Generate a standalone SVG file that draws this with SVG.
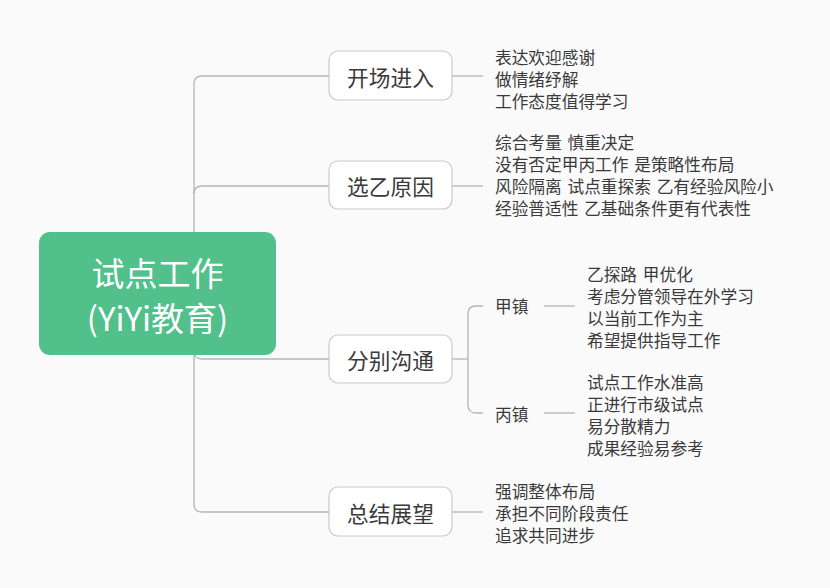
<svg xmlns="http://www.w3.org/2000/svg" width="830" height="588" viewBox="0 0 830 588">
<style>
text{font-family:"Noto Sans CJK SC","Noto Sans",sans-serif;dominant-baseline:central;fill:#3a3a3a}
.root{font-size:33px;fill:#ffffff;text-anchor:middle}
.l1{font-size:21.7px;text-anchor:middle}
.l2{font-size:16.7px}
.lf{font-size:16.7px;word-spacing:2px}
.box{fill:#ffffff;stroke:#c9c9c9;stroke-width:1.2}
.conn path{fill:none;stroke:#b5b5b5;stroke-width:1.3}
</style>
<rect width="830" height="588" fill="#fafafa"/>
<g class="conn">
<path d="M194,84 Q194,76 202,76 H330"/>
<path d="M194,84 V504"/>
<path d="M194,194 Q194,186 202,186 H330"/>
<path d="M194,351 Q194,359 202,359 H330"/>
<path d="M194,504 Q194,512 202,512 H330"/>
<path d="M452,76 H483"/>
<path d="M452,186 H483"/>
<path d="M452,359 H468"/>
<path d="M483,306 H476 Q468,306 468,314 V405 Q468,413 476,413 H483"/>
<path d="M544,306 H575"/>
<path d="M544,413 H575"/>
<path d="M452,512 H483"/>
</g>
<g id="root">
<rect x="39" y="232" width="237" height="123" rx="11" fill="#52c08b"/>
<text class="root" x="157.5" y="272">试点工作</text>
<text class="root" x="157.5" y="317">(YiYi教育)</text>
</g>
<g id="n1">
<rect class="box" x="329" y="51" width="123" height="49" rx="9"/>
<text class="l1" x="390.5" y="76">开场进入</text>
</g>
<g id="n1t">
<text class="lf" x="495" y="57">表达欢迎感谢</text>
<text class="lf" x="495" y="79">做情绪纾解</text>
<text class="lf" x="495" y="101">工作态度值得学习</text>
</g>
<g id="n2">
<rect class="box" x="329" y="161" width="123" height="48" rx="9"/>
<text class="l1" x="390.5" y="185">选乙原因</text>
</g>
<g id="n2t">
<text class="lf" x="495" y="142">综合考量 慎重决定</text>
<text class="lf" x="495" y="164">没有否定甲丙工作 是策略性布局</text>
<text class="lf" x="495" y="186">风险隔离 试点重探索 乙有经验风险小</text>
<text class="lf" x="495" y="208">经验普适性 乙基础条件更有代表性</text>
</g>
<g id="n3">
<rect class="box" x="329" y="335" width="123" height="48" rx="9"/>
<text class="l1" x="390.5" y="359">分别沟通</text>
</g>
<g id="n3a">
<text class="l2" x="495" y="306">甲镇</text>
</g>
<g id="n3at">
<text class="lf" x="587" y="274">乙探路 甲优化</text>
<text class="lf" x="587" y="296">考虑分管领导在外学习</text>
<text class="lf" x="587" y="318">以当前工作为主</text>
<text class="lf" x="587" y="340">希望提供指导工作</text>
</g>
<g id="n3b">
<text class="l2" x="495" y="414">丙镇</text>
</g>
<g id="n3bt">
<text class="lf" x="587" y="382">试点工作水准高</text>
<text class="lf" x="587" y="404">正进行市级试点</text>
<text class="lf" x="587" y="426">易分散精力</text>
<text class="lf" x="587" y="448">成果经验易参考</text>
</g>
<g id="n4">
<rect class="box" x="329" y="487" width="123" height="49" rx="9"/>
<text class="l1" x="390.5" y="512">总结展望</text>
</g>
<g id="n4t">
<text class="lf" x="495" y="491">强调整体布局</text>
<text class="lf" x="495" y="513">承担不同阶段责任</text>
<text class="lf" x="495" y="535">追求共同进步</text>
</g>
</svg>
